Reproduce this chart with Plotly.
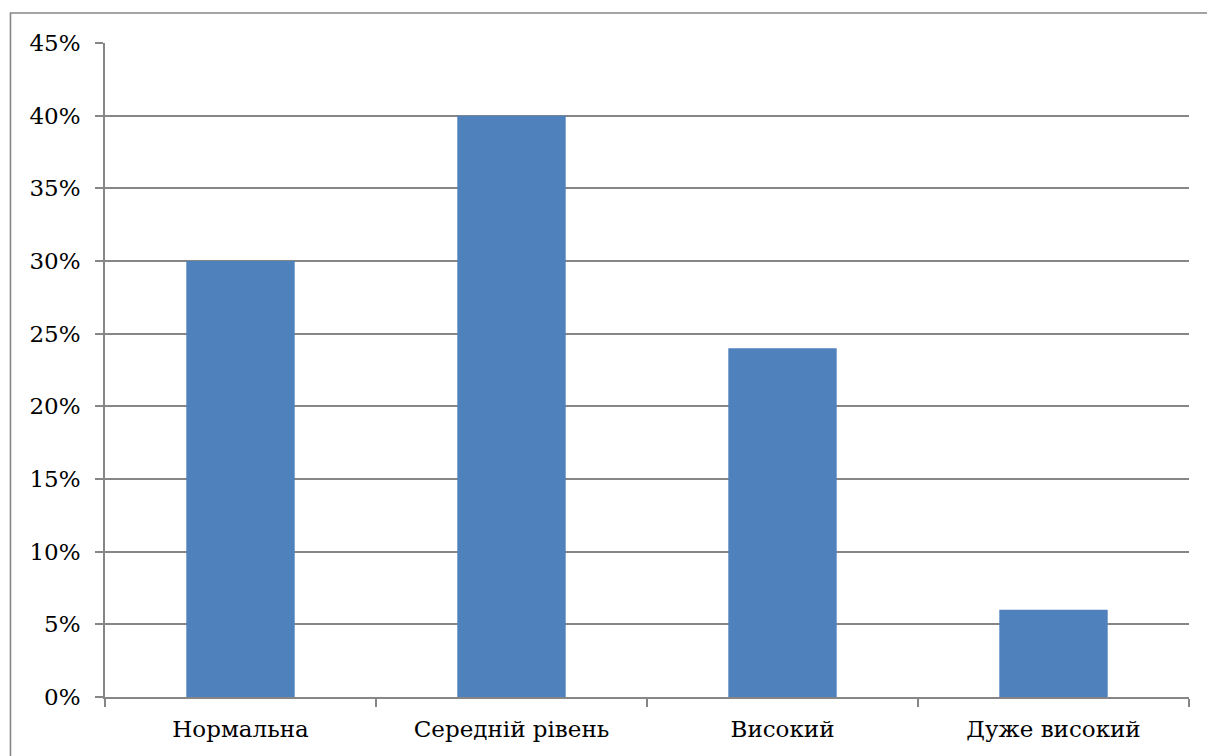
import plotly.graph_objects as go

categories = ["Нормальна", "Середній рівень", "Високий", "Дуже високий"]
shares = [0.30, 0.40, 0.24, 0.06]
y_ticks = [0, 0.05, 0.10, 0.15, 0.20, 0.25, 0.30, 0.35, 0.40, 0.45]
y_tick_labels = ["0%", "5%", "10%", "15%", "20%", "25%", "30%", "35%", "40%", "45%"]

GRID = "#868686"
FONT = dict(family="DejaVu Serif", size=23, color="#000000")

fig = go.Figure(
    go.Bar(
        x=categories,
        y=shares,
        marker=dict(color="#4F81BD", line=dict(width=0)),
        width=0.4,
    )
)

fig.update_layout(
    width=1207,
    height=756,
    margin=dict(l=105, r=18, t=43, b=59),
    paper_bgcolor="white",
    plot_bgcolor="white",
    showlegend=False,
    font=FONT,
    bargap=0.6,
)

fig.update_xaxes(
    type="category",
    showgrid=False,
    showline=True,
    linecolor=GRID,
    linewidth=1.6,
    ticks="outside",
    tickson="boundaries",
    ticklen=8,
    tickcolor=GRID,
    tickwidth=1.6,
    tickfont=FONT,
    ticklabelstandoff=11,
)

fig.update_yaxes(
    range=[0, 0.45],
    tickvals=y_ticks,
    ticktext=y_tick_labels,
    showgrid=True,
    gridcolor=GRID,
    gridwidth=1.6,
    showline=True,
    linecolor=GRID,
    linewidth=1.6,
    ticks="outside",
    ticklen=8,
    tickcolor=GRID,
    tickwidth=1.6,
    tickfont=FONT,
    zeroline=False,
    ticklabelstandoff=10,
)

# chart frame that runs past the right and bottom edges of the page
fig.add_shape(
    type="rect",
    xref="paper",
    yref="paper",
    x0=-0.0872,
    x1=1.05,
    y0=-0.2,
    y1=1.0459,
    line=dict(color=GRID, width=1.6),
    fillcolor="rgba(0,0,0,0)",
    layer="below",
)

fig.write_html("out.html")
